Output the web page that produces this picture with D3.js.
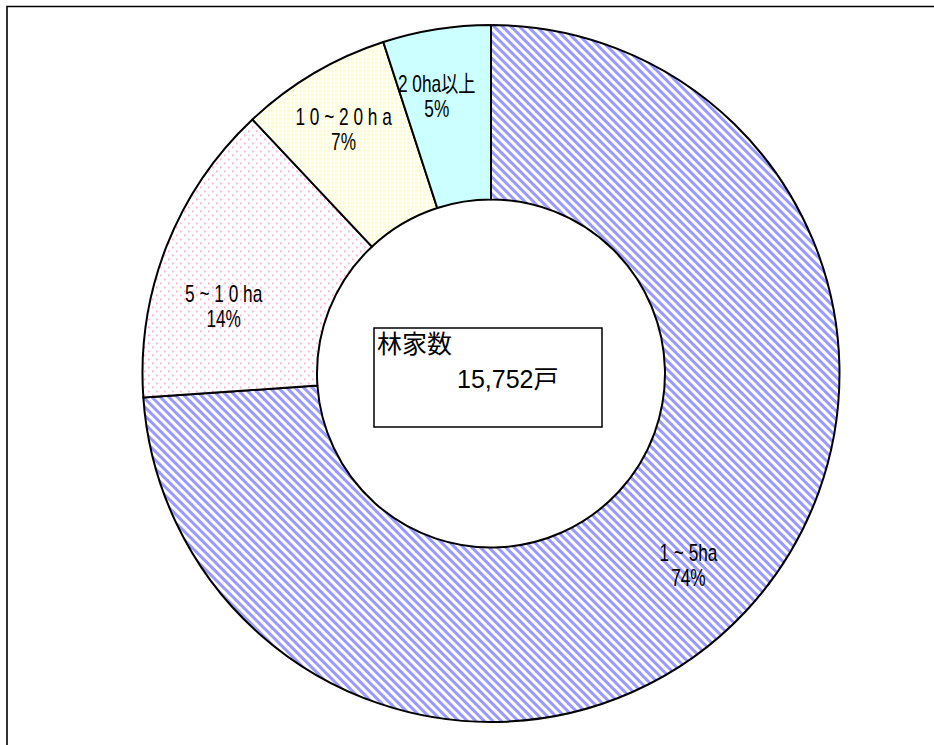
<!DOCTYPE html>
<meta charset="utf-8">
<style>
body { margin: 0; background: #fff; }
svg { display: block; }
.lbl { font-family: "Liberation Sans", Arial, "Noto Sans CJK JP", sans-serif; font-size: 23px; fill: #000; }
.ctr { font-family: "Liberation Sans", Arial, "Noto Sans CJK JP", sans-serif; font-size: 25px; fill: #000; }
</style>
<svg width="934" height="745"></svg>
<script src="https://cdn.jsdelivr.net/npm/d3@7"></script>
<script>

// data
var categories = ["1 ~ 5ha", "5 ~ 1 0 ha", "1 0 ~ 2 0 h a", "2 0ha以上"];
var shares = [73.9, 14.1, 7.0, 5.0];
var pctLabels = ["74%", "14%", "7%", "5%"];
var totalTitle = "林家数";
var totalValue = "15,752戸";

var svg = d3.select("svg"),
    width = +svg.attr("width"),
    height = +svg.attr("height");

var cx = 491, cy = 373.5,
    outerR = 348.5, innerR = 174;

// frame (top + left only, like the source)
svg.append("path")
    .attr("d", "M7,745V6.5H934")
    .attr("fill", "none")
    .attr("stroke", "#000")
    .attr("stroke-width", 1.6);

// fill patterns
var defs = svg.append("defs");

var stripe = defs.append("pattern")
    .attr("id", "p0")
    .attr("patternUnits", "userSpaceOnUse")
    .attr("width", 6).attr("height", 10)
    .attr("patternTransform", "rotate(-45)");
stripe.append("rect").attr("width", 6).attr("height", 10).attr("fill", "#fff");
stripe.append("rect").attr("width", 3).attr("height", 10).attr("fill", "#9999ff");

var dots = defs.append("pattern")
    .attr("id", "p1")
    .attr("patternUnits", "userSpaceOnUse")
    .attr("width", 8).attr("height", 8);
dots.append("rect").attr("width", 8).attr("height", 8).attr("fill", "#fff");
dots.append("rect").attr("x", 1).attr("y", 1).attr("width", 1.6).attr("height", 1.6).attr("fill", "#ff99cc");
dots.append("rect").attr("x", 5).attr("y", 5).attr("width", 1.6).attr("height", 1.6).attr("fill", "#ff99cc");

var grid = defs.append("pattern")
    .attr("id", "p2")
    .attr("patternUnits", "userSpaceOnUse")
    .attr("width", 4).attr("height", 4);
grid.append("rect").attr("width", 4).attr("height", 4).attr("fill", "#fff");
grid.append("rect").attr("width", 3).attr("height", 3).attr("fill", "#ffffc4");

var fills = ["url(#p0)", "url(#p1)", "url(#p2)", "#ccffff"];

var pie = d3.pie().sort(null).value(function(d) { return d; });
var arcs = pie(shares);

var arc = d3.arc().innerRadius(innerR).outerRadius(outerR);
var labelArc = d3.arc().innerRadius(270).outerRadius(270);

var g = svg.append("g")
    .attr("transform", "translate(" + cx + "," + cy + ")");

g.selectAll(".slice")
    .data(arcs)
  .enter().append("path")
    .attr("class", "slice")
    .attr("d", arc)
    .attr("fill", function(d, i) { return fills[i]; })
    .attr("stroke", "#000")
    .attr("stroke-width", 2)
    .attr("stroke-linejoin", "round");

// small nudges so labels sit where the source puts them
var nudge = [[0, 6], [-16, 30], [-10, -13], [-12, -12]];

// narrow-looking text: squeeze horizontally
var lbl = g.selectAll(".lbl")
    .data(arcs)
  .enter().append("text")
    .attr("class", "lbl")
    .attr("text-anchor", "middle")
    .attr("transform", function(d, i) {
      var c = labelArc.centroid(d);
      return "translate(" + (c[0] + nudge[i][0]) + "," + (c[1] + nudge[i][1]) + ") scale(0.75,1)";
    });

lbl.append("tspan")
    .attr("x", 0).attr("y", -3)
    .text(function(d, i) { return categories[i]; });
lbl.append("tspan")
    .attr("x", 0).attr("y", 22)
    .text(function(d, i) { return pctLabels[i]; });

// total box in the hole
var box = g.append("g");
box.append("rect")
    .attr("x", -117).attr("y", -45.5)
    .attr("width", 228).attr("height", 99)
    .attr("fill", "#fff")
    .attr("stroke", "#000")
    .attr("stroke-width", 1.5);
box.append("text")
    .attr("class", "ctr")
    .attr("x", -114).attr("y", -21)
    .text(totalTitle);
box.append("text")
    .attr("class", "ctr")
    .attr("x", -34).attr("y", 14)
    .text(totalValue);

</script>
